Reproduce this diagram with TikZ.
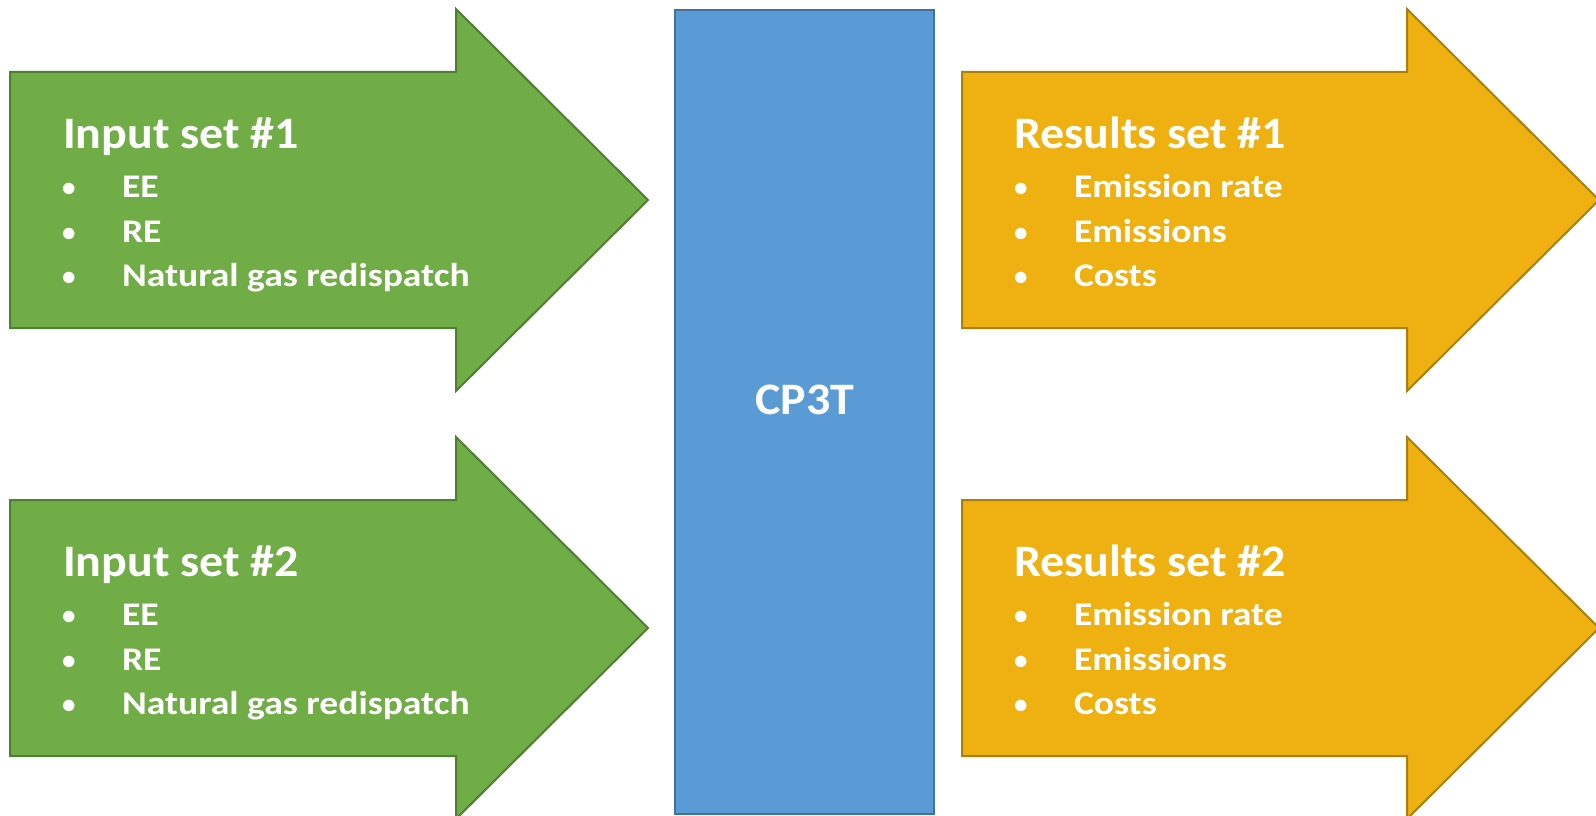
\documentclass[tikz,border=0pt]{standalone}
\usepackage{fontspec}
\setmainfont{Carlito}
\newfontfamily\headfont[FakeStretch=1.065]{Carlito}
\newfontfamily\itemfont[FakeStretch=1.14]{Carlito}
\begin{document}
\begin{tikzpicture}[x=1pt,y=-1pt,
  txt/.style={inner sep=0pt,outer sep=0pt,text=white,font=\bfseries},
  head/.style={txt,anchor=base west,font=\fontsize{45}{54}\headfont\bfseries},
  item/.style={txt,anchor=base west,font=\fontsize{33}{40}\itemfont\bfseries},
  dot/.style={txt,anchor=base west,font=\fontsize{27}{40}\selectfont\bfseries},
  inarrow/.style={fill=inGreen,draw=inGreenDark,line width=2pt,line join=miter},
  outarrow/.style={fill=outGold,draw=outGoldDark,line width=2pt,line join=miter},
  corebox/.style={fill=coreBlue,draw=coreBlueDark,line width=2pt}]
\definecolor{inGreen}{HTML}{70AD47}
\definecolor{inGreenDark}{HTML}{507E32}
\definecolor{outGold}{HTML}{EEB111}
\definecolor{outGoldDark}{HTML}{A8800C}
\definecolor{coreBlue}{HTML}{5B9BD5}
\definecolor{coreBlueDark}{HTML}{41719C}
\useasboundingbox (0,0) rectangle (1596,816);
\begin{scope}
\clip (0,0) rectangle (1596,816);
% central model block
\draw[corebox] (675,10) rectangle (934,814);
\node[txt,anchor=base,font=\fontsize{45}{54}\headfont\bfseries] (core) at (805,414) {CP3T};
% input and result arrows, two rows 428px apart
\foreach \dy/\n in {0/1,428/2}{
  \begin{scope}[yshift=-\dy pt]
  \draw[inarrow] (10,72) -- (456,72) -- (456,9) -- (648,200) -- (456,391) -- (456,328) -- (10,328) -- cycle;
  \draw[outarrow] (962,72) -- (1407,72) -- (1407,9) -- (1599,200) -- (1407,391) -- (1407,328) -- (962,328) -- cycle;
  \node[head] (in\n) at (63,148) {Input set \#\n};
  \node[dot] (inb\n a) at (62,196) {•};
  \node[dot] (inb\n b) at (62,241) {•};
  \node[dot] (inb\n c) at (62,285) {•};
  \node[item] (in\n a) at (122,197) {EE};
  \node[item] (in\n b) at (122,242) {RE};
  \node[item] (in\n c) at (122,286) {Natural gas redispatch};
  \node[head] (out\n) at (1014,148) {Results set \#\n};
  \node[dot] (outb\n a) at (1014,196) {•};
  \node[dot] (outb\n b) at (1014,241) {•};
  \node[dot] (outb\n c) at (1014,285) {•};
  \node[item] (out\n a) at (1074,197) {Emission rate};
  \node[item] (out\n b) at (1074,242) {Emissions};
  \node[item] (out\n c) at (1074,286) {Costs};
  \end{scope}
}
\end{scope}
\end{tikzpicture}
\end{document}
